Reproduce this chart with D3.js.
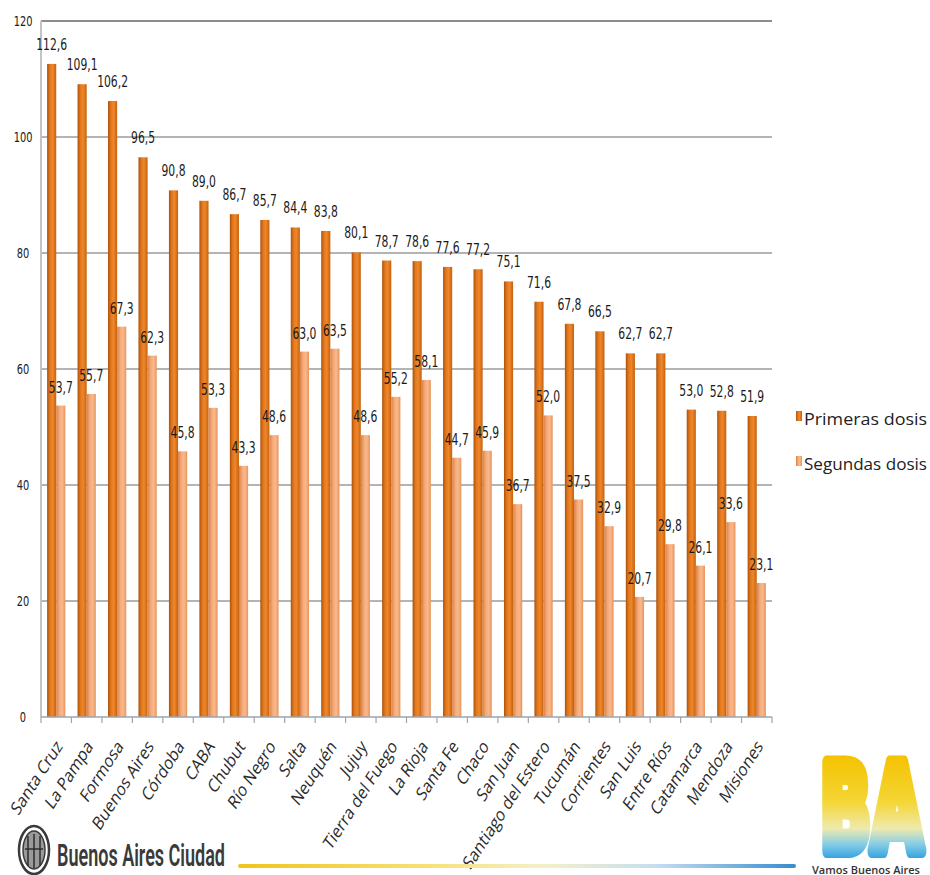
<!DOCTYPE html>
<html>
<head>
<meta charset="utf-8">
<script src="https://cdn.jsdelivr.net/npm/d3@7"></script>
<style>
  html, body { margin: 0; padding: 0; background: #fff; }
  svg { display: block; }
</style>
</head>
<body>
<script>
// ---- data ----
const provinces = ["Santa Cruz","La Pampa","Formosa","Buenos Aires","Córdoba","CABA","Chubut","Río Negro","Salta","Neuquén","Jujuy","Tierra del Fuego","La Rioja","Santa Fe","Chaco","San Juan","Santiago del Estero","Tucumán","Corrientes","San Luis","Entre Ríos","Catamarca","Mendoza","Misiones"];
const primeras = [112.6,109.1,106.2,96.5,90.8,89.0,86.7,85.7,84.4,83.8,80.1,78.7,78.6,77.6,77.2,75.1,71.6,67.8,66.5,62.7,62.7,53.0,52.8,51.9];
const segundas = [53.7,55.7,67.3,62.3,45.8,53.3,43.3,48.6,63.0,63.5,48.6,55.2,58.1,44.7,45.9,36.7,52.0,37.5,32.9,20.7,29.8,26.1,33.6,23.1];
const yTicks = [0,20,40,60,80,100,120];
const seriesNames = ["Primeras dosis","Segundas dosis"];

const W = 930, H = 875;
const svg = d3.select("body").append("svg").attr("width", W).attr("height", H);
svg.append("rect").attr("width", W).attr("height", H).attr("fill", "#fff");

const defs = svg.append("defs");
function grad(id, stops, vertical) {
  const g = defs.append("linearGradient").attr("id", id)
    .attr("x1", 0).attr("y1", 0).attr("x2", vertical ? 0 : 1).attr("y2", vertical ? 1 : 0);
  stops.forEach(s => g.append("stop").attr("offset", s[0]).attr("stop-color", s[1]));
  return g;
}
grad("g1", [[0,"#a9520c"],[0.3,"#e1761c"],[0.6,"#f0872a"],[1,"#c2620f"]]);
grad("g2", [[0,"#dc8048"],[0.35,"#f6aa78"],[0.65,"#f9b98c"],[1,"#e6945e"]]);
grad("gline", [[0,"#f0c41a"],[0.35,"#f6e27a"],[0.55,"#f3f0c8"],[0.75,"#c6def0"],[1,"#3a8dd0"]])
  .attr("gradientUnits", "userSpaceOnUse").attr("x1", 240).attr("x2", 794).attr("y1", 0).attr("y2", 0);
grad("gba", [[0,"#f5c200"],[0.45,"#f4d636"],[0.7,"#efeaae"],[0.85,"#86cde6"],[1,"#2a9de0"]])
  .attr("gradientUnits", "userSpaceOnUse").attr("x1", 0).attr("x2", 0).attr("y1", 755).attr("y2", 860);

const x0 = 41, x1 = 772, yBase = 717, yTop = 21;
const x = d3.scaleBand().domain(provinces).range([x0, x1]).padding(0);
const y = d3.scaleLinear().domain([0, 120]).range([yBase, yTop]);
const bw = x.bandwidth() * 0.3;

// gridlines
svg.append("g").selectAll("line").data(yTicks.filter(t => t > 0)).join("line")
  .attr("x1", x0).attr("x2", x1).attr("y1", d => y(d)).attr("y2", d => y(d))
  .attr("stroke", d => d === 120 ? "#8c8c8c" : "#b4b4b4").attr("stroke-width", 2);

// left axis line
svg.append("line").attr("x1", x0).attr("x2", x0).attr("y1", yTop).attr("y2", yBase)
  .attr("stroke", "#c4c4c4").attr("stroke-width", 2);

// y labels
svg.append("g").selectAll("text").data(yTicks).join("text")
  .attr("transform", d => `translate(23,${y(d) + 5}) scale(0.78,1)`)
  .attr("text-anchor", "middle")
  .attr("font-family", "DejaVu Sans Condensed, DejaVu Sans")
  .attr("font-size", 14).attr("fill", "#222")
  .text(d => d);

// bars
const fmt = v => v.toFixed(1).replace(".", ",");
const cx = d => x(d) + x.bandwidth() / 2;
svg.append("g").selectAll("rect").data(provinces).join("rect")
  .attr("x", d => cx(d) - bw).attr("width", bw)
  .attr("y", (d, i) => y(primeras[i])).attr("height", (d, i) => yBase - y(primeras[i]))
  .attr("fill", "url(#g1)");
svg.append("g").selectAll("rect").data(provinces).join("rect")
  .attr("x", d => cx(d)).attr("width", bw)
  .attr("y", (d, i) => y(segundas[i])).attr("height", (d, i) => yBase - y(segundas[i]))
  .attr("fill", "url(#g2)");

// x axis baseline + ticks
svg.append("line").attr("x1", x0).attr("x2", x1).attr("y1", yBase).attr("y2", yBase)
  .attr("stroke", "#9aa6b2").attr("stroke-width", 1.5);
const bounds = provinces.map(p => x(p)).concat([x1]);
svg.append("g").selectAll("line").data(bounds).join("line")
  .attr("x1", d => d).attr("x2", d => d).attr("y1", yBase).attr("y2", yBase + 6)
  .attr("stroke", "#9aa6b2").attr("stroke-width", 1.2);

// data labels
const lblFont = "DejaVu Sans Condensed, DejaVu Sans";
svg.append("g").selectAll("text").data(provinces).join("text")
  .attr("transform", (d, i) => `translate(${cx(d) - bw / 2},${y(primeras[i]) - 14}) scale(0.8,1)`)
  .attr("text-anchor", "middle").attr("font-family", lblFont).attr("font-size", 15).attr("fill", "#1a1a1a")
  .text((d, i) => fmt(primeras[i]));
svg.append("g").selectAll("text").data(provinces).join("text")
  .attr("transform", (d, i) => `translate(${cx(d) + bw / 2},${y(segundas[i]) - 13}) scale(0.8,1)`)
  .attr("text-anchor", "middle").attr("font-family", lblFont).attr("font-size", 15).attr("fill", "#1a1a1a")
  .text((d, i) => fmt(segundas[i]));

// x labels (rotated, slanted)
svg.append("g").selectAll("text").data(provinces).join("text")
  .attr("transform", d => `translate(${cx(d) + 7},${yBase + 30}) rotate(-57) skewX(-12)`)
  .attr("text-anchor", "end")
  .attr("font-family", "Open Sans")
  .attr("font-size", 16.5).attr("fill", "#2a2a2a")
  .text(d => d);

// legend
const lg = svg.append("g");
const legFills = ["url(#g1)", "url(#g2)"];
const legY = [425, 470];
seriesNames.forEach((s, i) => {
  lg.append("rect").attr("x", 796).attr("y", legY[i] - 14).attr("width", 6).attr("height", 10)
    .attr("fill", legFills[i]);
  lg.append("text").attr("x", 804).attr("y", legY[i])
    .attr("font-family", "Open Sans").attr("font-size", 17).attr("fill", "#222")
    .attr("textLength", 123).attr("lengthAdjust", "spacingAndGlyphs")
    .text(s);
});

// bottom-left logo
const emb = svg.append("g");
emb.append("ellipse").attr("cx", 34).attr("cy", 850).attr("rx", 15).attr("ry", 24)
  .attr("fill", "#fff").attr("stroke", "#3a3a3a").attr("stroke-width", 2.5);
emb.append("ellipse").attr("cx", 34).attr("cy", 850).attr("rx", 11).attr("ry", 19)
  .attr("fill", "#9a9a9a").attr("stroke", "#3a3a3a").attr("stroke-width", 1.5);
emb.append("path").attr("d", "M28,836 L28,866 M34,834 L34,868 M40,836 L40,866 M25,849 L43,849")
  .attr("stroke", "#2e2e2e").attr("stroke-width", 1.5).attr("fill", "none");
svg.append("text").attr("x", 57).attr("y", 866)
  .attr("font-family", "Roboto").attr("font-weight", 600).attr("font-size", 31).attr("fill", "#3a3a3a")
  .attr("textLength", 168).attr("lengthAdjust", "spacingAndGlyphs")
  .text("Buenos Aires Ciudad");

// gradient rule
svg.append("line").attr("x1", 240).attr("x2", 794).attr("y1", 866).attr("y2", 866)
  .attr("stroke", "url(#gline)").attr("stroke-width", 4).attr("stroke-linecap", "round");

// BA logo
svg.append("text").attr("x", 820).attr("y", 851)
  .attr("font-family", "DejaVu Sans").attr("font-weight", 700).attr("font-size", 122)
  .attr("fill", "url(#gba)").attr("stroke", "url(#gba)").attr("stroke-width", 14)
  .attr("stroke-linejoin", "round")
  .attr("textLength", 103).attr("lengthAdjust", "spacingAndGlyphs")
  .text("BA");
svg.append("text").attr("x", 812).attr("y", 874)
  .attr("font-family", "Open Sans").attr("font-weight", 600).attr("font-size", 11).attr("fill", "#333")
  .text("Vamos Buenos Aires");
</script>
</body>
</html>
